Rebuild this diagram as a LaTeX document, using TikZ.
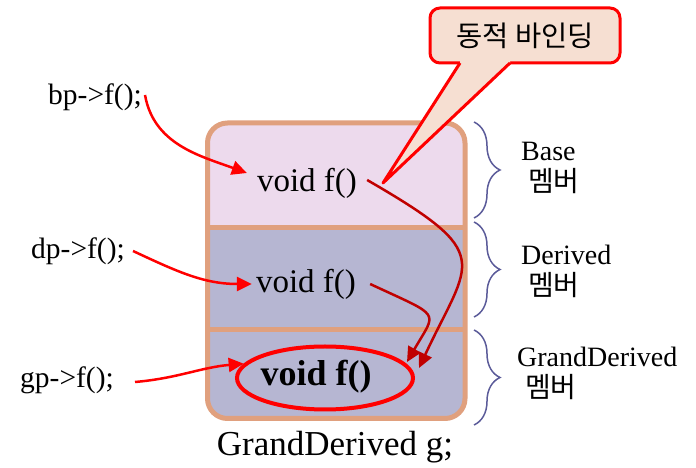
\documentclass[tikz,border=0pt]{standalone}
\usepackage{fontspec}
\setmainfont{Liberation Serif}
\newfontfamily\kr{Noto Sans CJK KR}
\usetikzlibrary{
	arrows.meta,
	shapes.geometric,
	decorations.pathreplacing}

\definecolor{boxline}{HTML}{E0A07E}
\definecolor{basefill}{HTML}{EDDAED}
\definecolor{derfill}{HTML}{B6B6D2}
\definecolor{callfill}{HTML}{F6DFD2}
\definecolor{bracecol}{HTML}{5B5B99}
\definecolor{darkred}{HTML}{C00000}

\begin{document}
\begin{tikzpicture}[x=1pt,y=1pt]
		\tikzstyle{code}=[font=\fontsize{33}{37}\selectfont, inner sep=4pt]
		\tikzstyle{member}=[font=\fontsize{28}{31}\selectfont, align=left,
							anchor=west, inner sep=0pt]
		\tikzstyle{call}=[red, line width=2.5pt,
						  -{Triangle[length=15pt,width=14pt]}]
		\tikzstyle{bind}=[darkred, line width=2.5pt,
						  -{Triangle[length=15pt,width=14pt]}]
		\tikzstyle{brace}=[bracecol, line width=1.5pt,
						   decorate, decoration={brace, amplitude=26pt}]

		\useasboundingbox (0,0) rectangle (696,468);

		% object g
		\begin{scope}
			\clip[rounded corners=20pt] (207.5,49.5) rectangle (465,345);
			\fill[basefill] (207.5,240) rectangle (465,345);
			\fill[derfill] (207.5,49.5) rectangle (465,240);
		\end{scope}
		\draw[boxline, line width=5pt] (207.5,240) -- (465,240)
			(207.5,138) -- (465,138);
		\draw[boxline, line width=5pt, rounded corners=20pt]
			(207.5,49.5) rectangle (465,345);

		% f() in each part
		\node[code] (fb) at (307,285) {void f()};
		\node[code] (fd) at (306,184) {void f()};
		\node[code, font=\bfseries\fontsize{36}{40}\selectfont] (fg) at (316,91) {void f()};
		\node[ellipse, draw=red, line width=4pt, minimum width=176pt,
			  minimum height=63pt] (ring) at (325,90) {};

		% callers
		\foreach \name/\x/\y in {bp/95/371, dp/78/217, gp/67/88}
			\node[code, font=\fontsize{29.5}{33}\selectfont, inner sep=0pt]
				(\name) at (\x,\y) {\name->f();};

		\draw[call] ([xshift=3pt,yshift=2pt]bp.east) to [out=-80,in=160]
			([xshift=-6pt,yshift=10pt]fb.west);
		\draw[call] ([xshift=8pt]dp.east) to [out=-25,in=180] (fd.west);
		\draw[call] ([xshift=21pt,yshift=-2pt]gp.east) to [out=5,in=185] (ring.170);

		% dynamic binding
		\draw[bind] ([xshift=6pt,yshift=3pt]fb.east)
			.. controls +(-30:150pt) and +(65:120pt) ..
			([shift={(4pt,10pt)}]ring.east);
		\draw[bind] ([xshift=10pt]fd.east)
			.. controls +(-25:80pt) and +(60:60pt) ..
			([shift={(-8pt,16pt)}]ring.east);

		% callout
		\coordinate (tip) at (383,285);
		\node[draw=red, fill=callfill, line width=3pt, rounded corners=10pt,
			  minimum width=190pt, minimum height=55pt,
			  font=\kr\fontsize{28.5}{32}\selectfont] (note) at (525,432.5) {동적 바인딩};
		\fill[callfill] (460,405) -- (tip) -- (510,405) -- (510,409)
			-- (460,409) -- cycle;
		\draw[red, line width=3pt, line join=round] (460,405) -- (tip) -- (510,405);

		% braces
		\foreach \top/\bot in {346/250, 246/151, 138/43}
			\draw[brace] (474,\top) -- (474,\bot);

		\node[member] (mb) at (521,300) {Base\\\hspace*{7pt}{\kr 멤버}};
		\node[member] (md) at (521,197) {Derived\\\hspace*{7pt}{\kr 멤버}};
		\node[member] (mg) at (517,95) {GrandDerived\\\hspace*{8pt}{\kr 멤버}};

		% name of the object
		\node[font=\fontsize{35}{39}\selectfont] (obj) at (335,21) {GrandDerived g;};
\end{tikzpicture}
\end{document}
